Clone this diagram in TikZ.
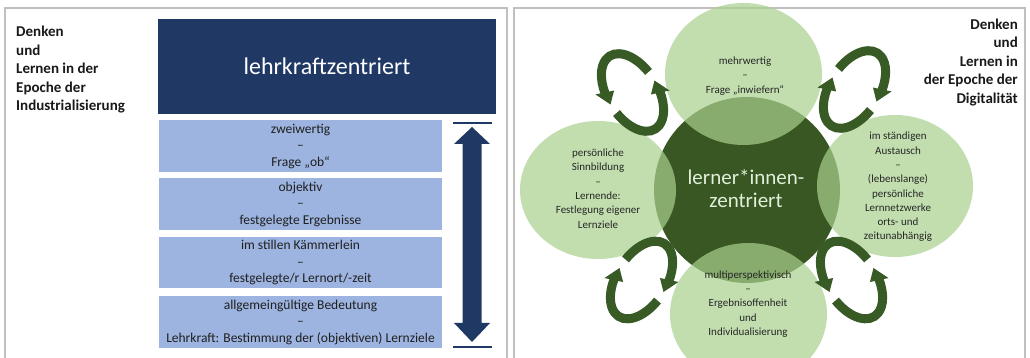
\documentclass[tikz,border=0pt]{standalone}
\usepackage{fontspec}
\setmainfont{Carlito}
\definecolor{navy}{HTML}{1F3864}
\definecolor{lblue}{HTML}{9DB4E0}
\definecolor{dgreen}{HTML}{385723}
\definecolor{lgreen}{HTML}{A9D18E}
\definecolor{agreen}{HTML}{385A25}
\definecolor{frame}{HTML}{C0C0C0}
\definecolor{ctext}{HTML}{E2EFDA}
% one pair of curved arrows forming a ring; #1,#2 centre, #3 = 1 or -1 (mirror)
\newcommand\ringpair[3]{%
  \begin{scope}[shift={(#1,#2)}, xscale=#3, rotate=-58]
    \draw[ringband] (102:43 and 25) arc[start angle=102,end angle=251,x radius=43,y radius=25];
    \fill[agreen] (250:52.5 and 34.5) -- (268:43 and 25) -- (250:33.5 and 15.5) -- cycle;
    \draw[ringband] (282:43 and 25) arc[start angle=282,end angle=431,x radius=43,y radius=25];
    \fill[agreen] (70:52.5 and 34.5) -- (88:43 and 25) -- (70:33.5 and 15.5) -- cycle;
  \end{scope}}
\begin{document}
\begin{tikzpicture}[x=1pt,y=1pt,
  panel/.style={draw=frame,line width=1.3pt},
  title/.style={font=\bfseries\fontsize{15}{18.5}\selectfont,text=black!90,inner sep=0pt},
  rowbox/.style={fill=lblue,minimum width=283pt,minimum height=52pt,inner sep=0pt,align=center,
     font=\fontsize{13.5}{16.5}\selectfont,text=black!88},
  bubble/.style={fill=lgreen,fill opacity=0.7},
  btext/.style={align=center,font=\fontsize{11}{14.3}\selectfont,text=black!85,inner sep=0pt},
  ringband/.style={draw=agreen,line width=9pt},
  bar/.style={draw=navy,line width=1.5pt}]
\useasboundingbox (0,0) rectangle (1030,358);
\clip (0,0) rectangle (1030,358);
\fill[white] (0,0) rectangle (1030,358);
% panels
\draw[panel] (5,-10) -- (5,350) -- (507,350) -- (507,-10);
\draw[panel] (514,-10) -- (514,350) -- (1025,350) -- (1025,-10);
% left panel
\node[title,anchor=west,align=left] (ltitle) at (16,288) {Denken\\und\\Lernen in der\\Epoche der\\Industrialisierung};
\node[fill=navy,minimum width=338pt,minimum height=95pt,inner sep=0pt,text=white,
      font=\fontsize{24}{28}\selectfont] (head) at (327,291.5) {lehrkraftzentriert};
\node[rowbox] (r1) at (300.5,212) {zweiwertig\\–\\Frage „ob“};
\node[rowbox] (r2) at (300.5,154) {objektiv\\–\\festgelegte Ergebnisse};
\node[rowbox,minimum height=51pt] (r3) at (300.5,95.5) {im stillen Kämmerlein\\–\\festgelegte/r Lernort/-zeit};
\node[rowbox] (r4) at (300.5,36) {allgemeingültige Bedeutung\\–\\Lehrkraft: Bestimmung der (objektiven) Lernziele};
% double arrow
\coordinate (atop) at (472,231);
\coordinate (abot) at (472,16);
\draw[bar] (453,235) -- (492,235);
\draw[bar] (453,11) -- (492,11);
\fill[navy] (atop) -- (490,214) -- (481.5,214) -- (481.5,35) -- (490,35) -- (abot)
   -- (454,35) -- (462.5,35) -- (462.5,214) -- (454,214) -- cycle;
% right panel
\node[title,anchor=east,align=right] (rtitle) at (1018,295.5) {Denken\\und\\Lernen in\\der Epoche der\\Digitalität};
\fill[dgreen] (747,168) circle[radius=93];
\fill[bubble] (743.5,284) ellipse[x radius=78.5,y radius=71];
\fill[bubble] (748.5,44) ellipse[x radius=78.5,y radius=71];
\fill[bubble] (598,168) ellipse[x radius=78,y radius=69];
\fill[bubble] (895,172) ellipse[x radius=78,y radius=71];
\node[align=center,font=\fontsize{21}{23}\selectfont,text=ctext,inner sep=0pt] (center) at (746,169.5) {lerner*innen-\\zentriert};
\node[btext] (btop) at (745,282) {mehrwertig\\–\\Frage „inwiefern“};
\node[btext] (bleft) at (598,169.5) {persönliche\\Sinnbildung\\–\\Lernende:\\Festlegung eigener\\Lernziele};
\node[btext] (bright) at (898,171) {im ständigen\\Austausch\\–\\(lebenslange)\\persönliche\\Lernnetzwerke\\orts- und\\zeitunabhängig};
\node[btext] (bbot) at (748,54) {multiperspektivisch\\–\\Ergebnisoffenheit\\und\\Individualisierung};
% circular arrows
\ringpair{632.5}{265.5}{1}
\ringpair{854.5}{268.5}{-1}
\ringpair{641.5}{78}{-1}
\ringpair{851.5}{78}{1}
\end{tikzpicture}
\end{document}
